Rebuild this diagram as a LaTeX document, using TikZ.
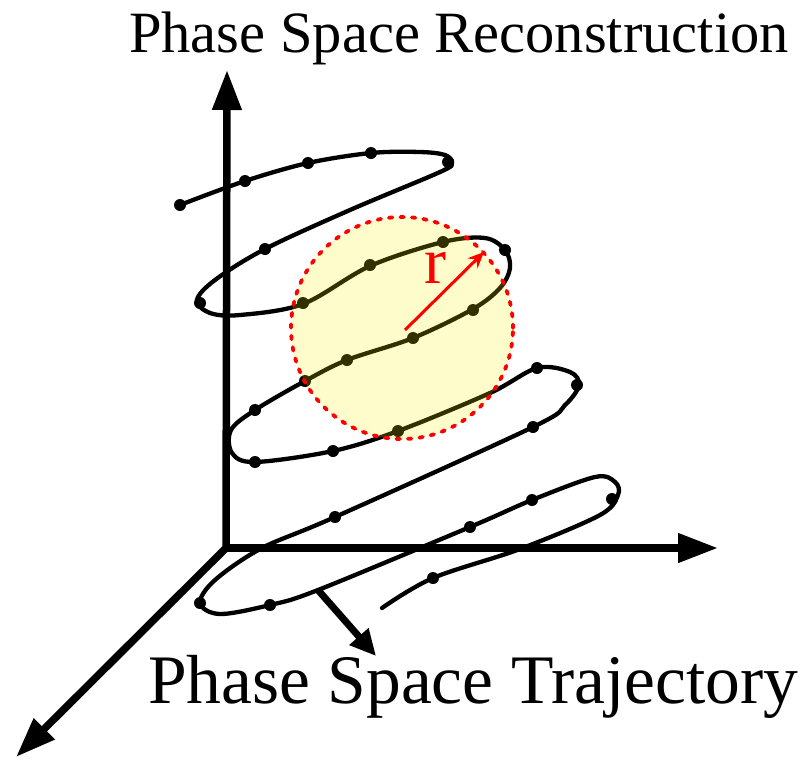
\documentclass[tikz,border=0pt]{standalone}
\usepackage{fontspec}
\setmainfont{Liberation Serif}
\usetikzlibrary{arrows.meta}
\begin{document}
\begin{tikzpicture}[x=1pt,y=-1pt,
  axisline/.style={line width=7.5pt,-{Triangle[length=40pt,width=28pt]}},
  traj/.style={line width=4.3pt,line join=round,line cap=round},
  dotpt/.style={circle,fill=black,inner sep=0pt,minimum size=12pt},
  ballstyle/.style={circle,minimum size=222pt,draw=red,line width=3.8pt,
    dash pattern=on 3.5pt off 8pt,line cap=round,fill=yellow,fill opacity=0.2},
  pointer/.style={line width=7pt,-{Triangle[length=26pt,width=24pt]}},
  bigtext/.style={anchor=base west,inner sep=0pt}]
\useasboundingbox (0,0) rectangle (810,763);
% axes
\coordinate (O) at (226,548);
\coordinate (ytip) at (227,70);
\coordinate (xtip) at (718,548);
\coordinate (ztip) at (16,757);
\draw[axisline] (O) -- (ytip);
\draw[axisline] (O) -- (xtip);
\draw[axisline] (O) -- (ztip);
% trajectory
\draw[traj] plot[smooth,tension=0.55] coordinates{
 (180,205) (245,181) (308,163) (371,153) (420,152) (445,155) (452,163)
 (440,172) (350,210) (265,249) (215,280) (197,300) (210,313) (240,315)
 (303,304) (370,266) (443,242) (485,238) (505,250) (510,268) (500,288)
 (473,309) (413,338) (347,360) (305,381) (255,410) (231,430) (232,453)
 (255,462) (333,451) (398,431) (490,393) (537,368) (570,372) (579,385)
 (565,405) (533,427) (335,517) (262,548) (215,580) (200,603) (220,614)
 (270,605) (318,590) (470,527) (532,500) (595,477) (615,482) (618,495)
 (600,515) (520,549) (433,578) (382,608)};
% points
\foreach \p [count=\i] in {(180,205),(245,181),(308,163),(371,153),(448,162),
  (265,249),(200,303),(303,303),(370,265),(443,242),(505,250),(473,310),
  (413,338),(347,360),(305,381),(255,410),(255,462),(333,451),(398,431),
  (537,368),(577,385),(533,427),(335,517),(200,603),(270,605),(470,527),
  (532,500),(612,499),(433,578)}
  \node[dotpt] (d\i) at \p {};
% neighbourhood ball
\node[ballstyle] (ball) at (402,328) {};
\coordinate (rstart) at (405,330);
\coordinate (rtip) at (484,252);
\draw[red,line width=3pt,-{Stealth[length=16pt,width=14pt]}] (rstart) -- (rtip);
\node[red,font=\fontsize{66}{66}\selectfont,inner sep=0pt] (rlab) at (435,268) {r};
% labels
\node[bigtext,font=\fontsize{58.5}{60}\selectfont] (title) at (129,52) {Phase Space Reconstruction};
\node[bigtext,font=\fontsize{69.5}{70}\selectfont] (trajlab) at (148,703) {Phase Space Trajectory};
\coordinate (pstart) at (318,590);
\coordinate (ptip) at (376,656);
\draw[pointer] (pstart) -- (ptip);
\end{tikzpicture}
\end{document}
